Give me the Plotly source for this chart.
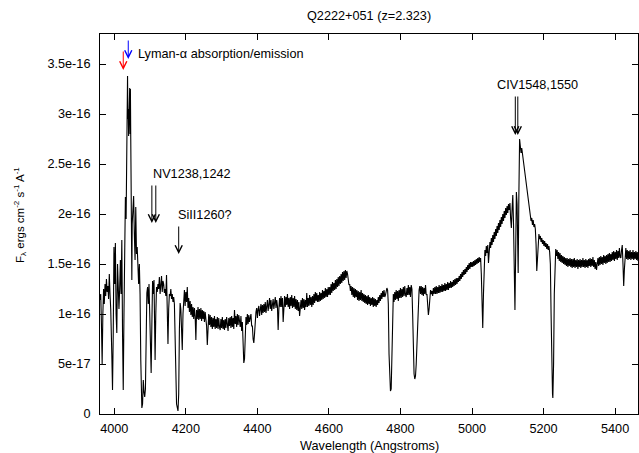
import plotly.graph_objects as go

# ---- Spectrum data (flux in units of 1e-16 erg cm^-2 s^-1 A^-1) ----
WL_A = [3960, 3962, 3964, 3966, 3968, 3970, 3972, 3974, 3976, 3978,
        3980, 3982, 3984, 3986, 3988, 3990, 3993, 3995, 3997, 3999,
        4001, 4003, 4005, 4007, 4009, 4011, 4013, 4015, 4017, 4019,
        4021, 4023, 4025, 4027, 4029, 4031, 4033, 4034, 4035, 4036,
        4037, 4038, 4039, 4040, 4041, 4042, 4043, 4044, 4045, 4046,
        4047, 4048, 4049, 4050, 4052, 4054, 4056, 4058, 4060, 4062,
        4064, 4066, 4068, 4070, 4072, 4074, 4077, 4079, 4081, 4083,
        4085, 4087, 4089, 4091, 4093, 4095, 4097, 4099, 4101, 4103,
        4105, 4107, 4109, 4111, 4113, 4114, 4116, 4118, 4120, 4122,
        4124, 4126, 4128, 4130, 4132, 4134, 4136, 4138, 4140, 4142,
        4144, 4146, 4148, 4150, 4152, 4154, 4156, 4158, 4160, 4162,
        4164, 4166, 4168, 4171, 4174, 4178, 4180]
FX_A = [1.14, 1.20, 0.90, 0.50, 1.00, 1.25, 1.10, 1.30, 1.18, 1.35,
        1.22, 1.28, 1.15, 1.40, 1.20, 1.05, 0.60, 0.24, 0.80, 1.67,
        1.30, 1.71, 1.00, 0.81, 1.50, 1.30, 1.05, 1.25, 1.54, 1.20,
        1.74, 0.80, 0.24, 1.00, 1.87, 2.17, 1.95, 2.21, 2.40, 2.90,
        3.38, 2.95, 3.05, 2.78, 3.22, 2.85, 3.26, 2.80, 3.25, 2.75,
        2.30, 1.80, 1.34, 1.90, 2.14, 2.18, 1.80, 1.54, 2.07, 1.60,
        1.67, 1.45, 1.30, 1.50, 1.20, 0.54, 0.06, 0.10, 0.34, 0.22,
        0.17, 0.25, 0.90, 1.21, 1.27, 1.10, 1.30, 1.04, 0.70, 0.41,
        0.90, 1.33, 1.20, 1.34, 0.80, 0.54, 1.00, 1.27, 1.22, 1.30,
        1.25, 1.37, 1.20, 1.28, 1.38, 1.22, 1.33, 1.30, 1.21, 1.25,
        1.18, 1.39, 1.10, 0.70, 1.05, 1.20, 1.18, 1.25, 1.15, 1.20,
        1.12, 1.17, 1.10, 0.60, 0.10, 0.03, 0.20]

WL_B = [4182, 4184, 4186, 4188, 4190, 4192, 4194, 4196, 4198, 4200,
        4202, 4204, 4206, 4208, 4210, 4212, 4214, 4216, 4218, 4220,
        4222, 4224, 4226, 4228, 4230, 4232, 4234, 4236, 4238, 4240,
        4242, 4244, 4246, 4248, 4250, 4252, 4254, 4256, 4258, 4260,
        4262, 4264, 4266, 4268, 4270, 4272, 4274, 4276, 4278, 4280,
        4282, 4284, 4286, 4288, 4290, 4292, 4294, 4296, 4298, 4300,
        4302, 4304, 4306, 4308, 4310, 4312, 4314, 4316, 4318, 4320,
        4322, 4324, 4326, 4328, 4330, 4332, 4334, 4336, 4338, 4340,
        4342, 4344, 4346, 4348, 4350, 4352, 4354, 4356, 4358, 4360,
        4362, 4364, 4366, 4368, 4370, 4372, 4374, 4376, 4378, 4380,
        4382, 4384, 4386, 4388, 4390, 4392, 4394, 4396, 4398, 4400]
FX_B = [0.85, 1.11, 1.05, 0.70, 0.64, 1.00, 1.15, 1.24, 1.08, 1.22,
        1.12, 1.27, 1.06, 1.16, 1.02, 1.13, 0.99, 1.10, 0.97, 1.07,
        0.95, 1.06, 0.98, 0.74, 1.04, 0.95, 1.07, 0.94, 1.05, 0.95,
        1.06, 0.93, 1.04, 0.95, 1.03, 0.92, 1.02, 0.94, 0.88, 0.69,
        0.97, 1.00, 0.89, 0.99, 0.87, 0.97, 0.85, 0.96, 0.87, 0.98,
        0.85, 0.95, 0.86, 0.97, 0.85, 0.96, 0.87, 0.84, 0.95, 0.86,
        0.97, 0.85, 0.94, 0.84, 0.95, 0.86, 0.97, 0.87, 0.83, 0.96,
        0.88, 0.97, 0.86, 0.98, 0.87, 0.96, 0.85, 1.04, 0.90, 0.98,
        0.87, 1.00, 0.89, 0.99, 0.91, 0.87, 0.98, 0.83, 0.92, 0.70,
        0.51, 0.55, 0.88, 0.97, 0.89, 1.00, 0.90, 0.99, 0.92, 0.96,
        1.00, 0.88, 0.88, 0.75, 0.71, 0.80, 0.95, 1.02, 1.06, 0.96]

WL_C = [4402, 4404, 4406, 4408, 4410, 4412, 4414, 4416, 4418, 4420,
        4422, 4424, 4426, 4428, 4430, 4432, 4434, 4436, 4438, 4440,
        4442, 4444, 4446, 4448, 4450, 4452, 4454, 4456, 4458, 4460,
        4462, 4464, 4466, 4468, 4470, 4472, 4474, 4476, 4478, 4480,
        4482, 4484, 4486, 4488, 4490, 4492, 4494, 4496, 4498, 4500,
        4502, 4504, 4506, 4508, 4510, 4512, 4514, 4516, 4518, 4520,
        4522, 4524, 4526, 4528, 4530, 4532, 4534, 4536, 4538, 4540,
        4542, 4544, 4546, 4548, 4550, 4552, 4554, 4556, 4558, 4560,
        4562, 4564, 4566, 4568]
FX_C = [1.05, 1.08, 0.98, 1.07, 1.10, 0.99, 1.09, 1.01, 1.10, 1.02,
        1.12, 1.01, 1.10, 1.14, 1.03, 1.12, 1.16, 1.05, 1.14, 1.03,
        1.12, 1.15, 1.05, 1.14, 1.17, 1.06, 1.14, 1.08, 0.84, 1.05,
        1.16, 1.07, 1.18, 1.07, 1.16, 0.92, 1.14, 1.18, 1.07, 1.17,
        1.09, 1.20, 1.07, 1.16, 1.05, 1.17, 1.08, 1.19, 1.06, 1.16,
        1.07, 1.18, 1.05, 1.15, 1.04, 1.14, 1.03, 1.12, 0.98, 1.05,
        1.14, 1.05, 1.16, 1.06, 1.15, 1.04, 1.14, 1.07, 1.21, 1.07,
        1.16, 1.08, 1.19, 1.09, 1.17, 1.07, 1.18, 1.09, 1.20, 1.11,
        1.22, 1.13, 1.21, 1.12]

WL_D = [4570, 4572, 4574, 4576, 4578, 4580, 4582, 4584, 4586, 4588,
        4590, 4592, 4594, 4596, 4598, 4600, 4602, 4604, 4606, 4608,
        4610, 4612, 4614, 4616, 4618, 4620, 4622, 4624, 4626, 4628,
        4630, 4632, 4634, 4636, 4638, 4640, 4642, 4644, 4646, 4648,
        4650, 4652, 4654, 4656, 4658, 4660, 4662, 4664, 4666, 4668,
        4670, 4672, 4674, 4676, 4678, 4680, 4682, 4684, 4686, 4688,
        4690, 4692, 4694, 4696, 4698, 4700, 4702, 4704, 4706, 4708,
        4710, 4712, 4714, 4716, 4718, 4720, 4722, 4724, 4726, 4728,
        4730, 4732, 4734, 4736, 4738, 4740, 4742, 4744, 4746, 4748,
        4750, 4752, 4754, 4756, 4758]
FX_D = [1.19, 1.12, 1.22, 1.13, 1.21, 1.14, 1.24, 1.15, 1.23, 1.16,
        1.26, 1.17, 1.25, 1.17, 1.27, 1.19, 1.27, 1.19, 1.30, 1.21,
        1.32, 1.23, 1.31, 1.24, 1.34, 1.25, 1.35, 1.27, 1.37, 1.28,
        1.38, 1.30, 1.40, 1.31, 1.42, 1.33, 1.43, 1.34, 1.44, 1.36,
        1.43, 1.40, 1.35, 1.29, 1.30, 1.23, 1.28, 1.19, 1.27, 1.17,
        1.26, 1.16, 1.25, 1.17, 1.24, 1.14, 1.23, 1.13, 1.22, 1.14,
        1.24, 1.13, 1.21, 1.12, 1.20, 1.11, 1.19, 1.10, 1.18, 1.09,
        1.19, 1.10, 1.17, 1.08, 1.16, 1.09, 1.17, 1.07, 1.16, 1.08,
        1.15, 1.07, 1.14, 1.09, 1.17, 1.11, 1.19, 1.13, 1.21, 1.15,
        1.23, 1.17, 1.24, 1.17, 1.19]

WL_E = [4760, 4762, 4764, 4766, 4768, 4770, 4772, 4774, 4776, 4778,
        4780, 4782, 4784, 4786, 4788, 4790, 4792, 4794, 4796, 4798,
        4800, 4802, 4804, 4806, 4808, 4810, 4812, 4814, 4816, 4818,
        4820, 4822, 4824, 4826, 4828, 4830, 4832, 4834, 4836, 4838,
        4840, 4842, 4844, 4846, 4848, 4850, 4852, 4854, 4856, 4858,
        4860, 4862, 4864, 4866, 4868, 4870, 4872, 4874, 4876, 4878,
        4880, 4882, 4884, 4886, 4888, 4890, 4892, 4894, 4896, 4898,
        4900, 4902, 4904, 4906, 4908, 4910, 4912, 4914, 4916, 4918,
        4920, 4922, 4924, 4926, 4928, 4930, 4932, 4934, 4936, 4938,
        4940, 4942, 4944, 4946, 4948, 4950, 4952, 4954, 4956, 4958,
        4960, 4962, 4964, 4966, 4968, 4970, 4972, 4974, 4976, 4978,
        4980, 4982, 4984, 4986, 4988, 4990, 4992, 4994, 4996, 4998]
FX_E = [1.22, 1.26, 1.24, 1.10, 0.60, 0.30, 0.23, 0.25, 0.60, 1.10,
        1.20, 1.12, 1.22, 1.14, 1.24, 1.15, 1.23, 1.13, 1.24, 1.16,
        1.26, 1.16, 1.25, 1.17, 1.27, 1.18, 1.28, 1.19, 1.17, 1.26,
        1.19, 1.29, 1.19, 1.27, 1.17, 1.29, 1.25, 1.00, 0.60, 0.40,
        0.35, 0.38, 0.50, 0.70, 0.75, 1.00, 1.24, 1.28, 1.20, 1.28,
        1.19, 1.27, 1.18, 1.26, 1.20, 1.29, 1.19, 1.20, 1.10, 0.99,
        1.05, 1.20, 1.24, 1.20, 1.23, 1.18, 1.26, 1.20, 1.27, 1.20,
        1.28, 1.20, 1.27, 1.21, 1.29, 1.21, 1.28, 1.22, 1.30, 1.22,
        1.29, 1.23, 1.31, 1.23, 1.30, 1.24, 1.32, 1.24, 1.31, 1.26,
        1.33, 1.26, 1.32, 1.27, 1.34, 1.28, 1.35, 1.29, 1.36, 1.30,
        1.36, 1.32, 1.38, 1.33, 1.40, 1.35, 1.42, 1.37, 1.44, 1.39,
        1.45, 1.40, 1.47, 1.42, 1.49, 1.44, 1.51, 1.45, 1.52, 1.47]

WL_F = [5000, 5002, 5004, 5006, 5008, 5010, 5012, 5014, 5016, 5018,
        5020, 5022, 5024, 5026, 5028, 5030, 5032, 5034, 5036, 5038,
        5040, 5042, 5044, 5046, 5048, 5050, 5052, 5054, 5056, 5058,
        5060, 5062, 5064, 5066, 5068, 5070, 5072, 5074, 5076, 5078,
        5080, 5082, 5084, 5086, 5088, 5090, 5092, 5094, 5096, 5098,
        5100, 5102, 5104, 5106, 5108, 5110, 5112, 5114, 5116, 5118,
        5120, 5122, 5124, 5126, 5128, 5129, 5131, 5133, 5135, 5137,
        5139, 5141, 5143, 5145, 5147, 5149, 5151, 5153, 5155, 5157,
        5159, 5161, 5163, 5165, 5167, 5169, 5171, 5173, 5175, 5177,
        5179, 5181, 5183, 5185, 5187, 5189, 5191, 5193, 5195, 5197,
        5199, 5201, 5203, 5205, 5207, 5209, 5211, 5213, 5215, 5217,
        5219, 5221, 5223, 5225, 5226, 5228, 5230]
FX_F = [1.52, 1.47, 1.53, 1.48, 1.54, 1.49, 1.55, 1.50, 1.56, 1.51,
        1.57, 1.52, 1.56, 1.40, 1.00, 0.86, 1.20, 1.60, 1.64, 1.58,
        1.68, 1.61, 1.69, 1.51, 1.68, 1.72, 1.66, 1.76, 1.69, 1.79,
        1.72, 1.82, 1.75, 1.85, 1.78, 1.88, 1.81, 1.91, 1.84, 1.94,
        1.87, 1.97, 1.90, 2.00, 1.93, 2.03, 1.96, 2.06, 1.99, 2.08,
        2.01, 2.10, 2.04, 2.11, 1.95, 1.86, 2.05, 2.19, 1.90, 1.30,
        1.04, 1.60, 2.22, 2.10, 1.60, 1.41, 2.20, 2.75, 2.68, 2.61,
        2.66, 2.60, 2.57, 2.48, 2.46, 2.38, 2.35, 2.25, 2.22, 2.12,
        2.10, 2.00, 1.99, 1.93, 1.96, 1.89, 1.94, 1.87, 1.90, 1.85,
        1.70, 1.43, 1.55, 1.77, 1.80, 1.75, 1.78, 1.72, 1.76, 1.70,
        1.74, 1.68, 1.73, 1.67, 1.71, 1.65, 1.70, 1.64, 1.68, 1.62,
        1.50, 1.00, 0.40, 0.20, 0.16, 0.50, 1.20]

WL_G = [5232, 5234, 5236, 5238, 5240, 5242, 5244, 5246, 5248, 5250,
        5252, 5254, 5256, 5258, 5260, 5262, 5264, 5266, 5268, 5270,
        5272, 5274, 5276, 5278, 5280, 5282, 5284, 5286, 5288, 5290,
        5292, 5294, 5296, 5298, 5300, 5302, 5304, 5306, 5308, 5310,
        5312, 5314, 5316, 5318, 5320, 5322, 5324, 5326, 5328, 5330,
        5332, 5334, 5336, 5338, 5340, 5342, 5344, 5346, 5348, 5350,
        5352, 5354, 5356, 5358, 5360, 5362, 5364, 5366, 5368, 5370,
        5372, 5374, 5376, 5378, 5380, 5382, 5384, 5386, 5388, 5390,
        5392, 5394, 5396, 5398, 5400, 5402, 5404, 5406, 5408, 5410,
        5412, 5414, 5416, 5418, 5420, 5422, 5424, 5426, 5428, 5430,
        5432, 5434, 5436, 5438, 5440, 5442, 5444, 5446, 5448, 5450,
        5452, 5454, 5456, 5458, 5460, 5462, 5464, 5466, 5468, 5470]
FX_G = [1.58, 1.65, 1.58, 1.64, 1.55, 1.62, 1.53, 1.61, 1.52, 1.59,
        1.51, 1.58, 1.50, 1.57, 1.49, 1.56, 1.48, 1.56, 1.47, 1.55,
        1.48, 1.56, 1.47, 1.55, 1.46, 1.55, 1.47, 1.56, 1.46, 1.54,
        1.47, 1.55, 1.45, 1.54, 1.47, 1.55, 1.46, 1.54, 1.47, 1.56,
        1.47, 1.54, 1.46, 1.55, 1.47, 1.54, 1.46, 1.55, 1.48, 1.56,
        1.47, 1.55, 1.48, 1.57, 1.47, 1.54, 1.45, 1.52, 1.44, 1.52,
        1.56, 1.48, 1.57, 1.49, 1.58, 1.50, 1.57, 1.49, 1.59, 1.51,
        1.58, 1.50, 1.59, 1.51, 1.60, 1.52, 1.61, 1.52, 1.60, 1.53,
        1.62, 1.54, 1.63, 1.53, 1.62, 1.55, 1.64, 1.54, 1.63, 1.56,
        1.66, 1.57, 1.56, 1.64, 1.69, 1.50, 1.28, 1.45, 1.60, 1.66,
        1.55, 1.64, 1.54, 1.63, 1.55, 1.64, 1.54, 1.62, 1.55, 1.64,
        1.54, 1.62, 1.55, 1.63, 1.54, 1.62, 1.53, 1.61, 1.54, 1.62]

FLUX_UNIT = 1e-16

X_TICKS = [4000, 4200, 4400, 4600, 4800, 5000, 5200, 5400]
Y_TICKS = [0, 0.5, 1.0, 1.5, 2.0, 2.5, 3.0, 3.5]
Y_TICK_TEXT = ["0", "5e-17", "1e-16", "1.5e-16", "2e-16", "2.5e-16", "3e-16", "3.5e-16"]

TITLE = "Q2222+051 (z=2.323)"
X_TITLE = "Wavelength (Angstroms)"
Y_TITLE = "F<sub>λ</sub> ergs cm<sup>-2</sup> s<sup>-1</sup> A<sup>-1</sup>"

# Line identification arrows: (name, wavelength of tip, flux of tip, colour, tail offset px)
LINE_ARROWS = [
    ("lya_abs", 4025, 3.44, "red", -20),
    ("lya_em", 4039, 3.55, "blue", -20),
    ("nv1", 4105, 1.91, "black", -39),
    ("nv2", 4116, 1.91, "black", -39),
    ("si2", 4180, 1.60, "black", -29),
    ("civ1", 5121, 2.79, "black", -40),
    ("civ2", 5128, 2.79, "black", -40),
]
LINE_LABELS = [
    ("Lyman-α absorption/emission", 4061, 3.60, "left"),
    ("NV1238,1242", 4103, 2.40, "left"),
    ("SiII1260?", 4173, 1.99, "left"),
    ("CIV1548,1550", 5184, 3.29, "center"),
]

wavelength = WL_A + WL_B + WL_C + WL_D + WL_E + WL_F + WL_G
flux_vals = FX_A + FX_B + FX_C + FX_D + FX_E + FX_F + FX_G
assert len(wavelength) == len(flux_vals)
flux = [v * FLUX_UNIT for v in flux_vals]

FONT = "Liberation Sans, Arial, Helvetica, sans-serif"
FS = 12.7

fig = go.Figure()
fig.add_trace(go.Scatter(x=wavelength, y=flux, mode="lines",
                         line=dict(color="black", width=1.1), showlegend=False,
                         hoverinfo="skip"))

annotations = []
for name, wl, fx, color, ay in LINE_ARROWS:
    annotations.append(dict(x=wl, y=fx * FLUX_UNIT, xref="x", yref="y", text="",
                            showarrow=True, ax=0, ay=ay, arrowhead=5, arrowsize=1.4,
                            arrowwidth=1, arrowcolor=color, standoff=0))
for text, wl, fx, anchor in LINE_LABELS:
    annotations.append(dict(x=wl, y=fx * FLUX_UNIT, xref="x", yref="y", text=text,
                            showarrow=False, xanchor=anchor, yanchor="middle",
                            font=dict(family=FONT, size=FS, color="black")))

L, R, T, B = 100, 1, 34, 39
W, H = 639, 453
pw, ph = W - L - R, H - T - B

def px_to_paper(px, py):
    return (px - L) / pw, (H - B - py) / ph

tx, ty = px_to_paper(369, 16)
annotations.append(dict(x=tx, y=ty, xref="paper", yref="paper", text=TITLE,
                        showarrow=False, xanchor="center", yanchor="middle",
                        font=dict(family=FONT, size=FS, color="black")))
xx, xy = px_to_paper(369, 446)
annotations.append(dict(x=xx, y=xy, xref="paper", yref="paper", text=X_TITLE,
                        showarrow=False, xanchor="center", yanchor="middle",
                        font=dict(family=FONT, size=FS, color="black")))
yx, yy = px_to_paper(20, 215)
annotations.append(dict(x=yx, y=yy, xref="paper", yref="paper", text=Y_TITLE,
                        showarrow=False, xanchor="center", yanchor="middle",
                        textangle=-90,
                        font=dict(family=FONT, size=11.5, color="black")))

fig.update_layout(
    width=W, height=H,
    margin=dict(l=L, r=R, t=T, b=B, pad=0),
    paper_bgcolor="white", plot_bgcolor="white",
    font=dict(family=FONT, size=FS, color="black"),
    annotations=annotations,
    showlegend=False,
)
fig.update_xaxes(range=[3960, 5464], tickvals=X_TICKS, ticks="inside", ticklen=6,
                 tickwidth=1, tickcolor="black", showline=True, linecolor="black",
                 linewidth=1, mirror="ticks", showgrid=False, zeroline=False,
                 ticklabelstandoff=3, tickfont=dict(family=FONT, size=FS))
fig.update_yaxes(range=[0, 3.8e-16], tickvals=[v * FLUX_UNIT for v in Y_TICKS],
                 ticktext=Y_TICK_TEXT, ticks="inside", ticklen=6, tickwidth=1,
                 tickcolor="black", showline=True, linecolor="black", linewidth=1,
                 mirror="ticks", showgrid=False, zeroline=False,
                 ticklabelstandoff=6, tickfont=dict(family=FONT, size=FS))

fig.write_html("out.html")
